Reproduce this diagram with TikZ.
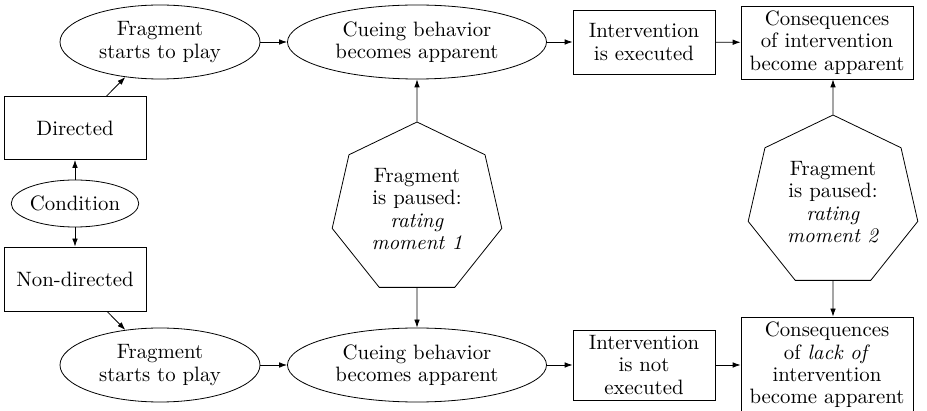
\documentclass[tikz,border=0pt]{standalone}
\usetikzlibrary{shapes.geometric,arrows.meta}
\begin{document}
\begin{tikzpicture}[x=0.5pt,y=-0.5pt,
  every node/.style={align=center,font=\fontsize{10.4}{11.2}\selectfont,inner sep=0pt},
  oval/.style={draw,ellipse,minimum height=37pt},
  box/.style={draw,rectangle},
  hept/.style={draw,regular polygon,regular polygon sides=7,minimum size=87pt},
  flow/.style={-{Latex[length=4pt,width=2.8pt]}}]
\useasboundingbox (0,0) rectangle (927,411);
\clip (0,0) rectangle (927,411);

% directed branch
\node[oval,minimum width=100pt] (frag1) at (160,42) {Fragment\\starts to play};
\node[oval,minimum width=129.5pt] (cue1) at (417,42) {Cueing behavior\\becomes apparent};
\node[box,minimum width=71pt,minimum height=32pt] (int1) at (644,42) {Intervention\\is executed};
\node[box,minimum width=86pt,minimum height=36.5pt] (con1) at (827,42.5) {Consequences\\of intervention\\become apparent};

% condition split
\node[box,minimum width=71pt,minimum height=31.5pt] (dir) at (75,128) {Directed};
\node[oval,minimum width=63.5pt,minimum height=23.5pt] (cond) at (75,203.5) {Condition};
\node[box,minimum width=71pt,minimum height=32pt] (nondir) at (75,279) {Non-directed};

% non-directed branch
\node[oval,minimum width=100pt] (frag2) at (160,365) {Fragment\\starts to play};
\node[oval,minimum width=129.5pt] (cue2) at (417,365) {Cueing behavior\\becomes apparent};
\node[box,minimum width=71pt,minimum height=35pt] (int2) at (644,365) {Intervention\\is not\\executed};
\node[box,minimum width=86pt,minimum height=48pt] (con2) at (827,365) {Consequences\\of \textit{lack of}\\intervention\\become apparent};

% rating moments
\node[hept] (rate1) at (417,209) {Fragment\\is paused:\\\textit{rating}\\\textit{moment 1}};
\node[hept] (rate2) at (833,202) {Fragment\\is paused:\\\textit{rating}\\\textit{moment 2}};

% connectors
\draw[flow] (cond) -- (dir);
\draw[flow] (cond) -- (nondir);
\draw[flow] (dir) -- (frag1);
\draw[flow] (nondir) -- (frag2);
\draw[flow] (frag1) -- (cue1);
\draw[flow] (cue1) -- (int1);
\draw[flow] (int1) -- (con1);
\draw[flow] (frag2) -- (cue2);
\draw[flow] (cue2) -- (int2);
\draw[flow] (int2) -- (con2);
\draw[flow] (rate1) -- (cue1);
\draw[flow] (rate1) -- (cue2);
\draw[flow] (rate2) -- (rate2 |- con1.south);
\draw[flow] (rate2) -- (rate2 |- con2.north);
\end{tikzpicture}
\end{document}
